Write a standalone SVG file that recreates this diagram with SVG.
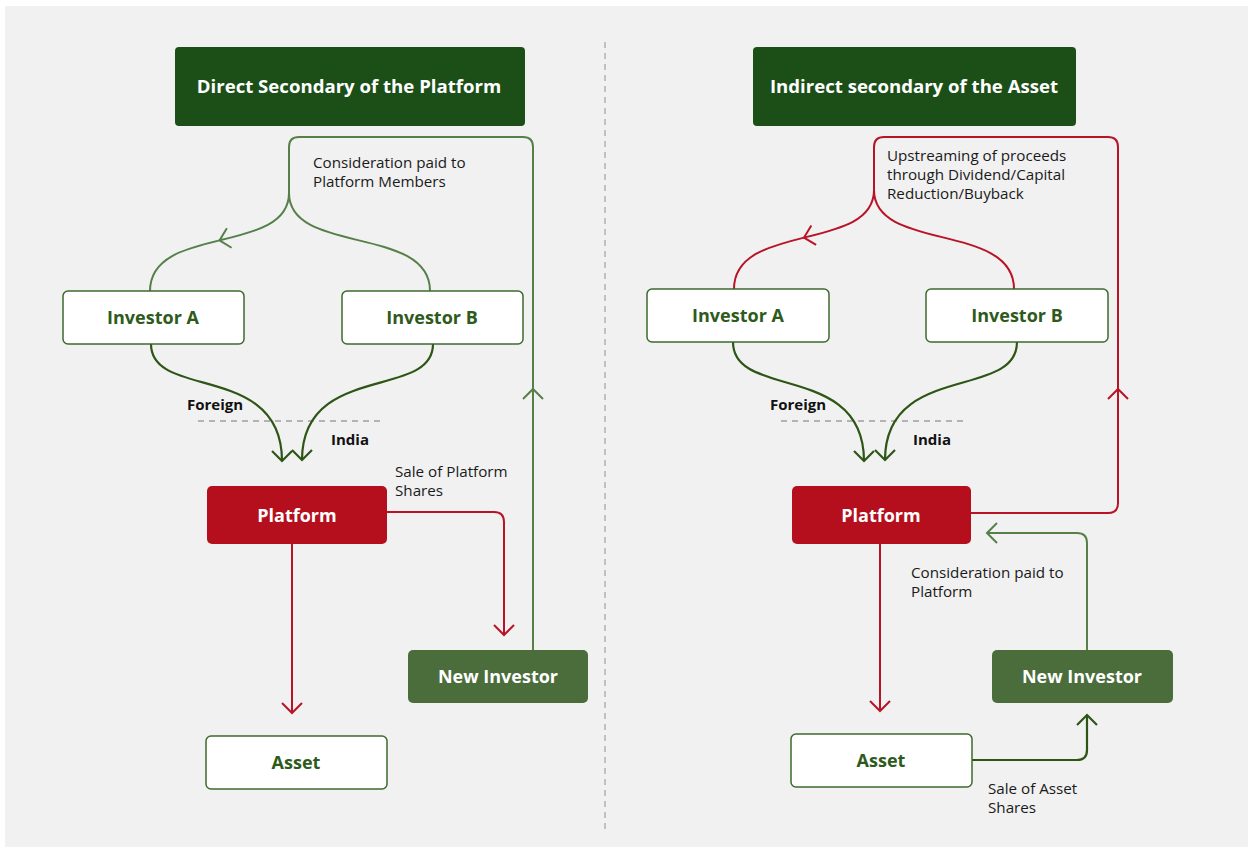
<svg xmlns="http://www.w3.org/2000/svg" width="1253" height="852" viewBox="0 0 1253 852">
  <style>
    .lbl { font-family: "Open Sans", "Liberation Sans", sans-serif; font-size: 15.2px; fill: #1a1a1a; }
    .zone { font-family: "Open Sans", "Liberation Sans", sans-serif; font-size: 15px; font-weight: 700; fill: #111; }
    .title { font-family: "Open Sans", "Liberation Sans", sans-serif; font-size: 18.6px; font-weight: 700; fill: #fff; text-anchor: middle; }
    .ntxt { font-family: "Open Sans", "Liberation Sans", sans-serif; font-size: 18px; font-weight: 700; text-anchor: middle; }
    .box-w { fill: #fff; stroke: #3d6a2e; stroke-width: 1.5; }
    .box-r { fill: #b50f1e; }
    .box-g { fill: #4b6d3c; }
    .box-t { fill: #1c4f18; }
    .t-g { fill: #2e5a1c; }
    .t-w { fill: #fff; }
    .red { fill: none; stroke: #b81427; stroke-width: 2; }
    .mid { fill: none; stroke: #56804a; stroke-width: 2; }
    .dark { fill: none; stroke: #2d5616; stroke-width: 2.2; }
    .sep { fill: none; stroke: #9e9e9e; stroke-width: 1.3; stroke-dasharray: 6 5; }
  </style>
  <defs>
    <marker id="ah-red" markerUnits="userSpaceOnUse" markerWidth="24" markerHeight="24" viewBox="-12 -12 24 24" refX="0" refY="0" orient="auto" overflow="visible">
      <path d="M-10,-10 L0,0 L-10,10" fill="none" stroke="#b81427" stroke-width="2"/>
    </marker>
    <marker id="ah-mid" markerUnits="userSpaceOnUse" markerWidth="24" markerHeight="24" viewBox="-12 -12 24 24" refX="0" refY="0" orient="auto" overflow="visible">
      <path d="M-10,-10 L0,0 L-10,10" fill="none" stroke="#56804a" stroke-width="2"/>
    </marker>
    <marker id="ah-dark" markerUnits="userSpaceOnUse" markerWidth="24" markerHeight="24" viewBox="-12 -12 24 24" refX="0" refY="0" orient="auto" overflow="visible">
      <path d="M-10,-10 L0,0 L-10,10" fill="none" stroke="#2d5616" stroke-width="2.2"/>
    </marker>
  </defs>

  <!-- canvas -->
  <rect x="0" y="0" width="1253" height="852" fill="#fff"/>
  <rect x="5" y="6" width="1243" height="841" fill="#f1f1f1"/>
  <line x1="605" y1="42" x2="605" y2="830" stroke="#a8a8a8" stroke-width="1.3" stroke-dasharray="6 5"/>

  <!-- connectors -->
  <g id="connectors">
    <!-- left: consideration loop from new investor back to platform members -->
    <path class="mid" d="M533,650 L533,389" marker-end="url(#ah-mid)"/>
    <path class="mid" d="M533,389 L533,147 Q533,137 523,137 L299,137 Q289,137 289,147 L289,193"/>
    <path class="mid" d="M289,193 C289,224 254.25,232 219.5,240.4" marker-end="url(#ah-mid)"/>
    <path class="mid" d="M219.5,240.4 C184.75,248.75 150,257.5 150,291"/>
    <path class="mid" d="M289,193 C289,255 430,225 430,291"/>

    <!-- left: investors into platform -->
    <line class="sep" x1="198" y1="421" x2="381" y2="421"/>
    <path class="dark" d="M151,344 C151,400 282,362 282,461" marker-end="url(#ah-dark)"/>
    <path class="dark" d="M433,344 C433,400 302,362 302,460" marker-end="url(#ah-dark)"/>

    <!-- left: platform outflows -->
    <path class="red" d="M387,512 L494,512 Q504,512 504,522 L504,635" marker-end="url(#ah-red)"/>
    <path class="red" d="M292,544 L292,713" marker-end="url(#ah-red)"/>

    <!-- right: upstreaming loop from platform to investors -->
    <path class="red" d="M971,513 L1108,513 Q1118,513 1118,503 L1118,389" marker-end="url(#ah-red)"/>
    <path class="red" d="M1118,389 L1118,147 Q1118,137 1108,137 L884,137 Q874,137 874,147 L874,190"/>
    <path class="red" d="M874,190 C874,221 839,229 804,237.6" marker-end="url(#ah-red)"/>
    <path class="red" d="M804,237.6 C769,246.25 734,255.5 734,289"/>
    <path class="red" d="M874,190 C874,252 1014,222 1014,289"/>

    <!-- right: investors into platform -->
    <line class="sep" x1="781" y1="421" x2="964" y2="421"/>
    <path class="dark" d="M733,342 C733,400 864,362 864,461" marker-end="url(#ah-dark)"/>
    <path class="dark" d="M1017,342 C1017,400 885,362 885,460" marker-end="url(#ah-dark)"/>

    <!-- right: platform, asset and new investor -->
    <path class="red" d="M880,544 L880,711" marker-end="url(#ah-red)"/>
    <path class="mid" d="M1087,650 L1087,543 Q1087,533 1077,533 L987,533" marker-end="url(#ah-mid)"/>
    <path class="dark" d="M972,760 L1077,760 Q1087,760 1087,750 L1087,715" marker-end="url(#ah-dark)"/>
  </g>

  <!-- connector labels -->
  <g id="labels">
    <text class="lbl" x="313" y="168">Consideration paid to</text>
    <text class="lbl" x="313" y="187">Platform Members</text>
    <text class="zone" x="187" y="410">Foreign</text>
    <text class="zone" x="331" y="445">India</text>
    <text class="lbl" x="395" y="477">Sale of Platform</text>
    <text class="lbl" x="395" y="496">Shares</text>

    <text class="lbl" x="887" y="161">Upstreaming of proceeds</text>
    <text class="lbl" x="887" y="180">through Dividend/Capital</text>
    <text class="lbl" x="887" y="199">Reduction/Buyback</text>
    <text class="zone" x="770" y="410">Foreign</text>
    <text class="zone" x="913" y="445">India</text>
    <text class="lbl" x="911" y="578">Consideration paid to</text>
    <text class="lbl" x="911" y="597">Platform</text>
    <text class="lbl" x="988" y="794">Sale of Asset</text>
    <text class="lbl" x="988" y="813">Shares</text>
  </g>

  <!-- left panel nodes -->
  <g id="title-direct">
    <rect class="box-t" x="175" y="47" width="350" height="79" rx="4"/>
    <text class="title" x="349" y="93">Direct Secondary of the Platform</text>
  </g>
  <g id="l-investor-a">
    <rect class="box-w" x="63" y="291" width="181" height="53" rx="5"/>
    <text class="ntxt t-g" x="153" y="324">Investor A</text>
  </g>
  <g id="l-investor-b">
    <rect class="box-w" x="342" y="291" width="181" height="53" rx="5"/>
    <text class="ntxt t-g" x="432" y="324">Investor B</text>
  </g>
  <g id="l-platform">
    <rect class="box-r" x="207" y="486" width="180" height="58" rx="5"/>
    <text class="ntxt t-w" x="297" y="522">Platform</text>
  </g>
  <g id="l-new-investor">
    <rect class="box-g" x="408" y="650" width="180" height="53" rx="5"/>
    <text class="ntxt t-w" x="498" y="683">New Investor</text>
  </g>
  <g id="l-asset">
    <rect class="box-w" x="206" y="736" width="181" height="53" rx="5"/>
    <text class="ntxt t-g" x="296" y="769">Asset</text>
  </g>

  <!-- right panel nodes -->
  <g id="title-indirect">
    <rect class="box-t" x="753" y="47" width="323" height="79" rx="4"/>
    <text class="title" x="914" y="93">Indirect secondary of the Asset</text>
  </g>
  <g id="r-investor-a">
    <rect class="box-w" x="647" y="289" width="182" height="53" rx="5"/>
    <text class="ntxt t-g" x="738" y="322">Investor A</text>
  </g>
  <g id="r-investor-b">
    <rect class="box-w" x="926" y="289" width="182" height="53" rx="5"/>
    <text class="ntxt t-g" x="1017" y="322">Investor B</text>
  </g>
  <g id="r-platform">
    <rect class="box-r" x="792" y="486" width="179" height="58" rx="5"/>
    <text class="ntxt t-w" x="881" y="522">Platform</text>
  </g>
  <g id="r-new-investor">
    <rect class="box-g" x="992" y="650" width="181" height="53" rx="5"/>
    <text class="ntxt t-w" x="1082" y="683">New Investor</text>
  </g>
  <g id="r-asset">
    <rect class="box-w" x="791" y="734" width="181" height="53" rx="5"/>
    <text class="ntxt t-g" x="881" y="767">Asset</text>
  </g>
</svg>
